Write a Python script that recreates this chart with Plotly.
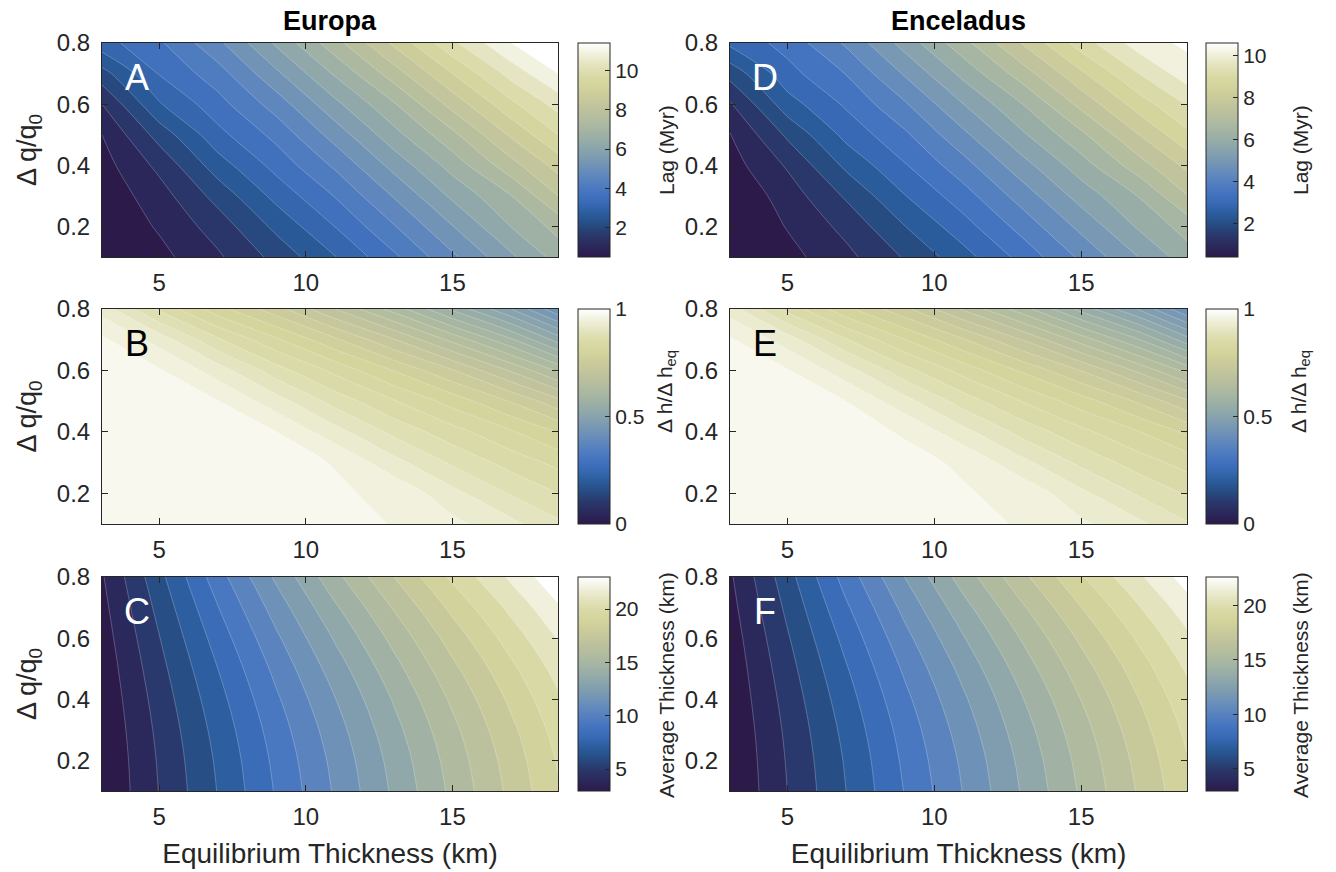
import plotly.graph_objects as go

# ---------------- data ----------------
x_km = [3.05, 5, 7, 9, 11, 13, 15, 17, 18.6]          # equilibrium thickness (km)
y_dq = [0.1, 0.2, 0.3, 0.4, 0.5, 0.6, 0.7, 0.8]        # delta q / q0

europa_lag = [
    [0.50, 0.85, 1.42, 2.16, 2.98, 3.90, 4.90, 5.90, 6.70],
    [0.55, 1.06, 1.73, 2.63, 3.51, 4.46, 5.48, 6.51, 7.17],
    [0.65, 1.28, 2.18, 3.16, 4.03, 5.04, 6.10, 6.99, 8.00],
    [0.80, 1.63, 2.76, 3.68, 4.59, 5.67, 6.70, 7.81, 8.70],
    [1.00, 2.20, 3.34, 4.16, 5.21, 6.32, 7.37, 8.58, 9.50],
    [1.50, 2.95, 3.81, 4.73, 5.87, 6.95, 8.18, 9.38, 10.20],
    [2.30, 3.53, 4.28, 5.40, 6.57, 7.75, 9.00, 10.19, 11.00],
    [3.30, 3.92, 4.88, 6.09, 7.31, 8.60, 9.90, 11.00, 11.40],
]
enceladus_lag = [
    [0.42, 0.83, 1.36, 2.05, 2.81, 3.67, 4.60, 5.53, 6.27],
    [0.47, 1.03, 1.65, 2.49, 3.30, 4.19, 5.14, 6.09, 6.71],
    [0.56, 1.23, 2.07, 2.98, 3.79, 4.73, 5.71, 6.54, 7.48],
    [0.78, 1.56, 2.61, 3.46, 4.31, 5.31, 6.27, 7.30, 8.13],
    [0.97, 2.09, 3.15, 3.91, 4.89, 5.92, 6.89, 8.02, 8.88],
    [1.43, 2.78, 3.58, 4.44, 5.50, 6.50, 7.65, 8.76, 9.53],
    [2.18, 3.32, 4.02, 5.06, 6.15, 7.25, 8.41, 9.52, 10.27],
    [3.11, 3.69, 4.58, 5.70, 6.84, 8.04, 9.25, 10.27, 10.60],
]
europa_dh = [
    [1.000, 0.998, 0.995, 0.990, 0.983, 0.974, 0.957, 0.932, 0.905],
    [0.999, 0.998, 0.994, 0.988, 0.978, 0.970, 0.933, 0.898, 0.875],
    [0.997, 0.995, 0.990, 0.982, 0.974, 0.934, 0.896, 0.865, 0.843],
    [0.994, 0.990, 0.984, 0.975, 0.935, 0.893, 0.860, 0.828, 0.799],
    [0.990, 0.985, 0.976, 0.936, 0.890, 0.852, 0.815, 0.773, 0.733],
    [0.985, 0.978, 0.938, 0.886, 0.843, 0.799, 0.752, 0.697, 0.646],
    [0.980, 0.940, 0.879, 0.829, 0.780, 0.727, 0.668, 0.604, 0.540],
    [0.940, 0.870, 0.810, 0.760, 0.700, 0.640, 0.570, 0.500, 0.430],
]
enceladus_dh = [
    [1.000, 0.998, 0.995, 0.990, 0.982, 0.973, 0.955, 0.930, 0.903],
    [0.999, 0.997, 0.993, 0.987, 0.977, 0.968, 0.931, 0.896, 0.872],
    [0.997, 0.994, 0.989, 0.981, 0.972, 0.932, 0.894, 0.862, 0.840],
    [0.993, 0.989, 0.983, 0.973, 0.933, 0.891, 0.857, 0.825, 0.795],
    [0.989, 0.984, 0.975, 0.934, 0.888, 0.849, 0.812, 0.770, 0.729],
    [0.984, 0.977, 0.936, 0.884, 0.840, 0.796, 0.749, 0.693, 0.642],
    [0.979, 0.938, 0.877, 0.826, 0.777, 0.724, 0.664, 0.600, 0.536],
    [0.938, 0.867, 0.807, 0.756, 0.696, 0.636, 0.566, 0.496, 0.426],
]
europa_thick = [
    [3.00, 5.03, 7.04, 9.11, 11.12, 13.18, 15.24, 17.27, 18.90],
    [3.04, 5.11, 7.16, 9.26, 11.29, 13.36, 15.43, 17.46, 19.09],
    [3.11, 5.24, 7.36, 9.50, 11.57, 13.67, 15.74, 17.77, 19.40],
    [3.21, 5.43, 7.64, 9.85, 11.97, 14.09, 16.18, 18.21, 19.83],
    [3.34, 5.67, 8.00, 10.29, 12.48, 14.64, 16.75, 18.77, 20.38],
    [3.50, 5.96, 8.44, 10.83, 13.11, 15.30, 17.44, 19.46, 21.06],
    [3.69, 6.30, 8.96, 11.46, 13.85, 16.09, 18.26, 20.27, 21.87],
    [3.90, 6.70, 9.56, 12.20, 14.70, 17.00, 19.20, 21.20, 22.80],
]
enceladus_thick = [
    [2.98, 5.00, 7.00, 9.05, 11.05, 13.10, 15.15, 17.15, 18.75],
    [3.02, 5.08, 7.11, 9.20, 11.21, 13.27, 15.33, 17.34, 18.93],
    [3.09, 5.20, 7.30, 9.42, 11.48, 13.56, 15.62, 17.63, 19.22],
    [3.19, 5.38, 7.57, 9.75, 11.85, 13.95, 16.02, 18.03, 19.62],
    [3.31, 5.61, 7.91, 10.17, 12.33, 14.47, 16.55, 18.55, 20.13],
    [3.46, 5.89, 8.33, 10.69, 12.94, 15.10, 17.20, 19.20, 20.78],
    [3.65, 6.22, 8.84, 11.30, 13.66, 15.86, 17.99, 19.98, 21.55],
    [3.85, 6.60, 9.42, 12.02, 14.48, 16.75, 18.90, 20.88, 22.45],
]

x_ticks = [5, 10, 15]
y_ticks = [0.2, 0.4, 0.6, 0.8]
y_ticktext = ["0.2", "0.4", "0.6", "0.8"]
lag_ticks = [2, 4, 6, 8, 10]
dh_ticks = [0, 0.5, 1]
dh_ticktext = ["0", "0.5", "1"]
thick_ticks = [5, 10, 15, 20]

# ---------------- styling ----------------
W, H = 1336, 872
FONT = "Liberation Sans, Arial, Helvetica, sans-serif"
INK = "#262626"

davos = [
    [0.00, "#2c1a4b"], [0.05, "#2b285b"], [0.10, "#2a376a"], [0.15, "#274c82"],
    [0.20, "#2a5c9b"], [0.25, "#3869b4"], [0.30, "#4474c0"], [0.35, "#5580bf"],
    [0.40, "#668cbb"], [0.45, "#7898b3"], [0.50, "#88a3ad"], [0.55, "#98ada6"],
    [0.60, "#a7b6a2"], [0.65, "#b4bd9e"], [0.70, "#c0c39c"], [0.75, "#cbcb9b"],
    [0.80, "#d4d49d"], [0.85, "#dadaa8"], [0.90, "#e4e4c0"], [0.95, "#f1f1de"],
    [1.00, "#ffffff"],
]

def px_x(p):
    return p / W

def px_y(p):
    return 1 - p / H

col_x = [(102, 558), (730, 1187)]
row_y = [(43, 257), (309, 524), (577, 791)]
cbar_left = [578, 1206]
cbar_title_x = [666, 1300]

panels = [
    # (col, row, z, levels(start,end,size), cmin, cmax, cb ticks, cb ticktext, cb title, title y-centre, letter, letter colour)
    (0, 0, europa_lag, (1.0, 11.0, 0.5), 0.5, 11.4, lag_ticks, None, "Lag (Myr)", 150, "A", "white"),
    (0, 1, europa_dh, (0.025, 1.0, 0.025), 0.0, 1.0, dh_ticks, dh_ticktext, "Δ h/Δ h<sub>eq</sub>", 392, "B", "black"),
    (0, 2, europa_thick, (4, 22, 1), 2.95, 23.0, thick_ticks, None, "Average Thickness (km)", 685, "C", "white"),
    (1, 0, enceladus_lag, (1.0, 10.5, 0.5), 0.4, 10.6, lag_ticks, None, "Lag (Myr)", 150, "D", "white"),
    (1, 1, enceladus_dh, (0.025, 1.0, 0.025), 0.0, 1.0, dh_ticks, dh_ticktext, "Δ h/Δ h<sub>eq</sub>", 392, "E", "black"),
    (1, 2, enceladus_thick, (4, 22, 1), 2.95, 22.6, thick_ticks, None, "Average Thickness (km)", 685, "F", "white"),
]

fig = go.Figure()
annotations = []

for i, (c, r, z, lev, cmin, cmax, cbt, cbtt, cbtitle, cbty, letter, lcol) in enumerate(panels):
    n = i + 1
    xa = "x" if n == 1 else f"x{n}"
    ya = "y" if n == 1 else f"y{n}"
    fig.add_trace(go.Contour(
        x=x_km, y=y_dq, z=z,
        xaxis=xa, yaxis=ya,
        colorscale=davos, showscale=False,
        contours=dict(start=lev[0], end=lev[1], size=lev[2], coloring="fill", showlines=True),
        line=dict(color="rgba(255,255,255,0.40)", width=0.6, smoothing=0.9),
        hoverinfo="skip",
    ))
    y0, y1 = row_y[r]
    cb = dict(
        x=px_x(cbar_left[c]), xanchor="left", xpad=0,
        y=px_y((y0 + y1) / 2), yanchor="middle", ypad=0,
        len=(y1 - y0) / H, lenmode="fraction",
        thickness=32, thicknessmode="pixels",
        outlinewidth=1, outlinecolor=INK,
        ticks="inside", ticklen=5, tickcolor=INK,
        tickvals=cbt,
        tickfont=dict(family=FONT, size=21, color=INK),
    )
    if cbtt is not None:
        cb["ticktext"] = cbtt
    # continuous colour bar (as in the original figure)
    fig.add_trace(go.Scatter(
        x=[x_km[0]], y=[y_dq[0]], xaxis=xa, yaxis=ya, mode="markers",
        marker=dict(size=1, opacity=0, color=[cmin], cmin=cmin, cmax=cmax,
                    colorscale=davos, showscale=True, colorbar=cb),
        hoverinfo="skip", showlegend=False,
    ))
    # colour-bar label (rotated, right of the tick labels)
    annotations.append(dict(
        text=cbtitle, xref="paper", yref="paper", textangle=-90,
        x=px_x(cbar_title_x[c]), y=px_y(cbty), xanchor="center", yanchor="middle",
        showarrow=False, font=dict(family=FONT, size=21, color=INK)))

    x0p, x1p = col_x[c]
    axis_common = dict(showline=True, linecolor=INK, linewidth=1, mirror="ticks",
                       ticks="inside", ticklen=6, tickcolor=INK, showgrid=False,
                       zeroline=False,
                       tickfont=dict(family=FONT, size=24, color=INK))
    xkey = "xaxis" if n == 1 else f"xaxis{n}"
    ykey = "yaxis" if n == 1 else f"yaxis{n}"
    xdict = dict(axis_common, domain=[px_x(x0p), px_x(x1p)], anchor=ya,
                 range=[x_km[0], x_km[-1]], tickvals=x_ticks, ticklabelstandoff=4)
    ydict = dict(axis_common, domain=[px_y(y1), px_y(y0)], anchor=xa,
                 range=[y_dq[0], y_dq[-1]], tickvals=y_ticks, ticktext=y_ticktext,
                 ticklabelstandoff=6)
    if r == 2:
        xdict["title"] = dict(text="Equilibrium Thickness (km)", standoff=14,
                              font=dict(family=FONT, size=28, color=INK))
    if c == 0:
        ydict["title"] = dict(text="Δ q/q<sub>0</sub>", standoff=12,
                              font=dict(family=FONT, size=27, color=INK))
    fig.update_layout(**{xkey: xdict, ykey: ydict})

    # panel letter
    annotations.append(dict(
        text=letter, xref="paper", yref="paper",
        x=px_x(x0p + 35), y=px_y(y0 + 34), xanchor="center", yanchor="middle",
        showarrow=False, font=dict(family=FONT, size=36, color=lcol)))

annotations.append(dict(text="<b>Europa</b>", xref="paper", yref="paper",
                        x=px_x(330), y=px_y(21), xanchor="center", yanchor="middle",
                        showarrow=False, font=dict(family=FONT, size=27, color="black")))
annotations.append(dict(text="<b>Enceladus</b>", xref="paper", yref="paper",
                        x=px_x(958), y=px_y(21), xanchor="center", yanchor="middle",
                        showarrow=False, font=dict(family=FONT, size=27, color="black")))

fig.update_layout(
    width=W, height=H,
    margin=dict(l=0, r=0, t=0, b=0, autoexpand=False),
    paper_bgcolor="white", plot_bgcolor="white",
    showlegend=False,
    font=dict(family=FONT, color=INK),
    annotations=annotations,
)

fig.write_html("out.html")
